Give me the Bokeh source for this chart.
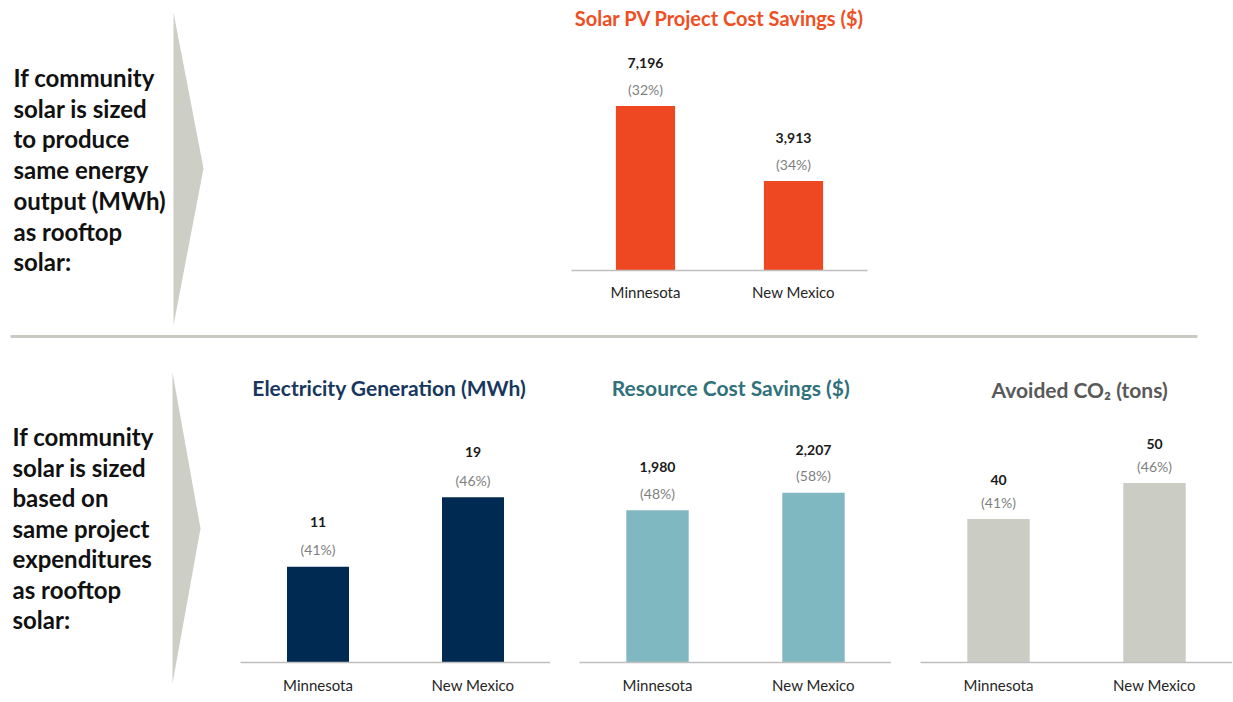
from bokeh.plotting import figure
from bokeh.layouts import row, column
from bokeh.models import Range1d, FactorRange, Label
from bokeh.core.properties import value
from bokeh.embed import file_html
from bokeh.resources import INLINE

FONT = "Lato"

# ---------------- data ----------------
states = ["Minnesota", "New Mexico"]

pv_savings = [7196, 3913]
pv_savings_pct = ["(32%)", "(34%)"]

generation = [11, 19]
generation_pct = ["(41%)", "(46%)"]

resource_savings = [1980, 2207]
resource_savings_pct = ["(48%)", "(58%)"]

avoided_co2 = [40, 50]
avoided_co2_pct = ["(41%)", "(46%)"]

left_top_lines = ["If community", "solar is sized", "to produce", "same energy",
                  "output (MWh)", "as rooftop", "solar:"]
left_bottom_lines = ["If community", "solar is sized", "based on", "same project",
                     "expenditures", "as rooftop", "solar:"]

CHEVRON = "#CDCEC6"
TOTAL_W = 1232


def base_fig(width, height, x_range, y_range, **kw):
    p = figure(width=width, height=height, x_range=x_range, y_range=y_range,
               output_backend="svg", toolbar_location=None,
               x_axis_location=kw.pop("x_axis_location", None), y_axis_location=None,
               outline_line_color=None, background_fill_color="white",
               border_fill_color="white", **kw)
    p.xgrid.visible = False
    p.ygrid.visible = False
    if "frame_align" in p.properties():
        p.frame_align = False
    return p


def side_panel(lines, width, height, text_x, first_y, line_gap, chevron_x, chevron_y):
    p = base_fig(width, height, Range1d(0, width), Range1d(height, 0),
                 min_border=0)
    p.patch(chevron_x, chevron_y, color=CHEVRON, line_color=None)
    ys = [first_y + i * line_gap for i in range(len(lines))]
    p.text(x=[text_x] * len(lines), y=ys, text=lines, text_font=value(FONT),
           text_font_style="bold", text_font_size="24px", text_color="#111111",
           text_align="left", text_baseline="middle")
    return p


def bar_chart(title, title_color, vals, pcts, color, width, height, ymax,
              min_left, min_right, min_bottom, title_off, title_dx,
              val_off, pct_off, standoff, title_size="21px"):
    p = base_fig(width, height, FactorRange(factors=states, range_padding=0),
                 Range1d(0, ymax), x_axis_location="below",
                 min_border_left=min_left, min_border_right=min_right,
                 min_border_top=0, min_border_bottom=min_bottom)
    p.vbar(x=states, top=vals, width=0.40, color=color, line_color=None)
    p.text(x=states, y=vals, text=[f"{v:,}" for v in vals],
           y_offset=val_off, text_font=value(FONT), text_font_style="bold",
           text_font_size="14px", text_color="#1a1a1a",
           text_align="center", text_baseline="middle")
    p.text(x=states, y=vals, text=pcts, y_offset=pct_off,
           text_font=value(FONT), text_font_size="14px", text_color="#7f7f7f",
           text_align="center", text_baseline="middle")
    p.add_layout(Label(x=1.0 + title_dx, y=ymax, text=title, y_offset=-title_off,
                       text_font=FONT, text_font_style="bold",
                       text_font_size=title_size, text_color=title_color,
                       text_align="center", text_baseline="middle"))
    ax = p.xaxis[0]
    ax.axis_line_color = "#BFBFBF"
    ax.axis_line_width = 1.5
    ax.major_tick_line_color = None
    ax.minor_tick_line_color = None
    ax.major_label_text_font = FONT
    ax.major_label_text_font_size = "15px"
    ax.major_label_text_color = "#262626"
    ax.major_label_standoff = standoff
    return p


# ---------------- top row (0..328) ----------------
LEFT_TOP_W = 530
left_top = side_panel(left_top_lines, LEFT_TOP_W, 328, 13, 77, 30.7,
                      [173, 203, 173], [12, 168, 325])
top_chart = bar_chart("Solar PV Project Cost Savings ($)", "#F04E23",
                      pv_savings, pv_savings_pct, "#EE4823",
                      TOTAL_W - LEFT_TOP_W, 328, 11816, 571 - LEFT_TOP_W,
                      TOTAL_W - 571 - 296, 58, 17, 0.0, -43, -17, 6,
                      title_size="20px")

# ---------------- divider (328..350) ----------------
divider = base_fig(TOTAL_W, 22, Range1d(0, TOTAL_W), Range1d(22, 0), min_border=0)
divider.line([10, 1197], [8, 8], line_color="#C9CAC2", line_width=3)

# ---------------- bottom row (350..702) ----------------
left_bottom = side_panel(left_bottom_lines, 240, 352, 12, 86, 30.5,
                         [172, 200, 172], [22, 178, 333])
c1 = bar_chart("Electricity Generation (MWh)", "#17375E",
               generation, generation_pct, "#002A52",
               310, 352, 35.86, 0, 0, 40, 37, -0.04, -45, -17, 7)
c2 = bar_chart("Resource Cost Savings ($)", "#31717B",
               resource_savings, resource_savings_pct, "#7FB8C1",
               341, 352, 4057, 29, 0, 40, 37, -0.03, -43, -17, 7)
c3 = bar_chart("Avoided CO\u2082 (tons)", "#595959",
               avoided_co2, avoided_co2_pct, "#CBCCC3",
               TOTAL_W - 240 - 310 - 341, 352, 86.9, 29, 0, 40, 39, 0.02, -39, -16, 7)

layout = column(row(left_top, top_chart), divider,
                row(left_bottom, c1, c2, c3))

open("out.html", "w").write(file_html(layout, INLINE))
